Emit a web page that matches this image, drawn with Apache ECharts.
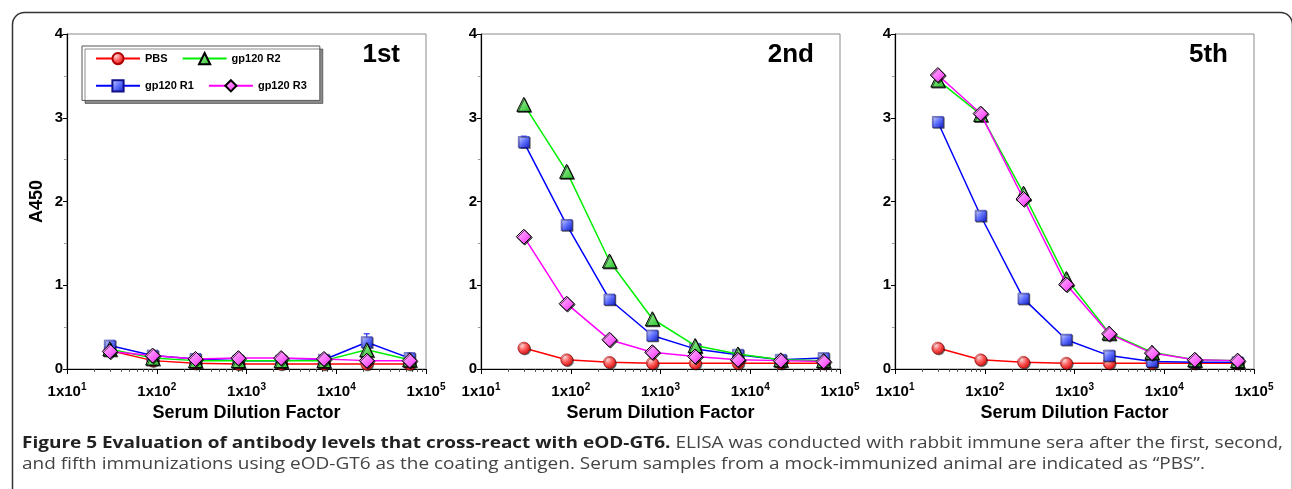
<!DOCTYPE html>
<html>
<head>
<meta charset="utf-8">
<script src="https://cdn.jsdelivr.net/npm/echarts@6/dist/echarts.min.js"></script>
<style>
  html, body { margin: 0; padding: 0; background: #fff; }
  #main { width: 1292px; height: 489px; }
</style>
</head>
<body>
<div id="main"></div>
<script>
// serum dilutions, 3-fold steps from 1:30
var dilutions = [30, 90, 270, 810, 2430, 7290, 21870, 65610];
var panelNames = ['1st', '2nd', '5th'];

// A450 after 1st immunization
var pbs1 = [0.22, 0.10, 0.07, 0.06, 0.06, 0.06, 0.06, 0.06];
var r1_1 = [0.28, 0.16, 0.12, 0.10, 0.10, 0.11, 0.32, 0.13];
var r2_1 = [0.24, 0.13, 0.10, 0.10, 0.10, 0.10, 0.23, 0.11];
var r3_1 = [0.21, 0.16, 0.12, 0.13, 0.13, 0.12, 0.10, 0.10];
// after 2nd
var pbs2 = [0.25, 0.11, 0.08, 0.07, 0.07, 0.07, 0.07, 0.07];
var r1_2 = [2.71, 1.72, 0.83, 0.40, 0.24, 0.17, 0.11, 0.13];
var r2_2 = [3.16, 2.36, 1.29, 0.60, 0.28, 0.18, 0.11, 0.10];
var r3_2 = [1.58, 0.78, 0.35, 0.20, 0.15, 0.11, 0.10, 0.09];
// after 5th
var pbs5 = [0.25, 0.11, 0.08, 0.07, 0.07, 0.07, 0.07, 0.07];
var r1_5 = [2.95, 1.83, 0.84, 0.35, 0.16, 0.09, 0.08, 0.08];
var r2_5 = [3.45, 3.04, 2.10, 1.08, 0.43, 0.20, 0.11, 0.10];
var r3_5 = [3.51, 3.05, 2.03, 1.01, 0.42, 0.19, 0.11, 0.10];

// error bars that are visible in the figure
var errR1_1 = [0, 0, 0, 0, 0, 0, 0.10, 0.06];
var errR2_1 = [0, 0, 0, 0, 0, 0, 0.05, 0];
var errR1_2 = [0.07, 0, 0, 0, 0, 0, 0, 0];

var yTicks = [0, 1, 2, 3, 4];
var xMajor = [10, 100, 1000, 10000, 100000];
var xMinor = [];
for (var p = 10; p < 100000; p *= 10) {
  for (var k = 2; k <= 9; k++) xMinor.push(k * p);
}

var captionBold = 'Figure 5 Evaluation of antibody levels that cross-react with eOD-GT6.';
var captionRest1 = ' ELISA was conducted with rabbit immune sera after the first, second,';
var captionLine2 = 'and fifth immunizations using eOD-GT6 as the coating antigen. Serum samples from a mock-immunized animal are indicated as \u201cPBS\u201d.';

var font = 'Liberation Sans, Arial, Helvetica, sans-serif';
var capFont = '"Open Sans", sans-serif';
var chart = echarts.init(document.getElementById('main'));

var lefts = [67, 481, 895];
var grids = [], xAxes = [], yAxes = [], series = [], titles = [];

// marker styles
var sty = {
  pbs: { symbol: 'circle', size: 12, line: '#ff0000',
    fill: { type: 'radial', x: 0.35, y: 0.3, r: 0.75, colorStops: [{ offset: 0, color: '#ffd6d6' }, { offset: 0.5, color: '#ff5a5a' }, { offset: 1, color: '#d01010' }] },
    border: '#b00000', bw: 0.5, z: 2 },
  r1: { symbol: 'rect', size: 11, line: '#0000ff',
    fill: { type: 'linear', x: 0, y: 0, x2: 1, y2: 1, colorStops: [{ offset: 0, color: '#d8dcff' }, { offset: 0.5, color: '#6070ff' }, { offset: 1, color: '#1020c0' }] },
    border: '#10108a', bw: 0.5, z: 3 },
  r2: { symbol: 'triangle', size: 14, line: '#00ee00',
    fill: { type: 'linear', x: 0, y: 0, x2: 1, y2: 1, colorStops: [{ offset: 0, color: '#b8ffb8' }, { offset: 1, color: '#22bb22' }] },
    border: '#000', bw: 1, z: 4 },
  r3: { symbol: 'diamond', size: 15, line: '#ff00ff',
    fill: { type: 'linear', x: 0, y: 0, x2: 1, y2: 1, colorStops: [{ offset: 0, color: '#ffc8ff' }, { offset: 0.6, color: '#ff66ff' }, { offset: 1, color: '#d020d0' }] },
    border: '#000', bw: 1, z: 5 }
};

function line(name, vals, gi, s) {
  return {
    name: name, type: 'line', xAxisIndex: gi * 2, yAxisIndex: gi,
    data: dilutions.map(function (d, i) { return [d, vals[i]]; }),
    symbol: s.symbol, symbolSize: s.size, showAllSymbol: true,
    lineStyle: { color: s.line, width: 1.5 },
    itemStyle: { color: s.fill, borderColor: s.border, borderWidth: s.bw,
      shadowColor: 'rgba(0,0,0,0.6)', shadowOffsetX: 1, shadowOffsetY: 1 },
    z: s.z, animation: false, emphasis: { disabled: true }
  };
}

function errBars(vals, err, gi, color) {
  return {
    type: 'custom', xAxisIndex: gi * 2, yAxisIndex: gi, silent: true, z: 1, animation: false,
    data: dilutions.map(function (d, i) { return [d, vals[i], err[i]]; }).filter(function (e) { return e[2] > 0; }),
    renderItem: function (params, api) {
      var x = api.value(0), y = api.value(1), e = api.value(2);
      var hi = api.coord([x, y + e]), lo = api.coord([x, y - e]);
      var st = { stroke: color, lineWidth: 1 };
      return { type: 'group', children: [
        { type: 'line', shape: { x1: hi[0], y1: hi[1], x2: lo[0], y2: lo[1] }, style: st },
        { type: 'line', shape: { x1: hi[0] - 3, y1: hi[1], x2: hi[0] + 3, y2: hi[1] }, style: st },
        { type: 'line', shape: { x1: lo[0] - 3, y1: lo[1], x2: lo[0] + 3, y2: lo[1] }, style: st }
      ] };
    }
  };
}

var panelData = [
  [pbs1, r1_1, r2_1, r3_1],
  [pbs2, r1_2, r2_2, r3_2],
  [pbs5, r1_5, r2_5, r3_5]
];

for (var g = 0; g < 3; g++) {
  grids.push({ left: lefts[g], top: 34, width: 359, height: 335, show: true,
    borderColor: '#8a8a8a', borderWidth: 1, backgroundColor: 'transparent' });
  // main log axis with labels
  xAxes.push({
    type: 'log', logBase: 10, gridIndex: g, min: 10, max: 100000,
    name: 'Serum Dilution Factor', nameLocation: 'middle', nameGap: 33,
    nameTextStyle: { fontFamily: font, fontWeight: 'bold', fontSize: 18, color: '#000' },
    axisLine: { show: true, onZero: false, lineStyle: { color: '#000', width: 1.2 } },
    axisTick: { show: true, length: 5, customValues: xMajor, lineStyle: { color: '#000' } },
    axisLabel: {
      customValues: xMajor, margin: 13, color: '#000', fontFamily: font, fontWeight: 'bold', fontSize: 15,
      formatter: function (v) { return '1x10{sup|' + Math.round(Math.log10(v)) + '}'; },
      rich: { sup: { fontFamily: font, fontWeight: 'bold', fontSize: 10, verticalAlign: 'bottom', padding: [0, 0, 9, 0], color: '#000' } }
    },
    splitLine: { show: false }
  });
  // minor ticks 2..9 per decade
  xAxes.push({
    type: 'log', logBase: 10, gridIndex: g, min: 10, max: 100000, position: 'bottom',
    axisLine: { show: false },
    axisTick: { show: true, length: 3, customValues: xMinor, lineStyle: { color: '#555' } },
    axisLabel: { show: false }, splitLine: { show: false }
  });
  yAxes.push({
    type: 'value', gridIndex: g, min: 0, max: 4, interval: 1,
    name: g === 0 ? 'A450' : '', nameLocation: 'middle', nameGap: 21,
    nameTextStyle: { fontFamily: font, fontWeight: 'bold', fontSize: 18, color: '#000' },
    axisLine: { show: true, lineStyle: { color: '#000', width: 1.2 } },
    axisTick: { show: true, length: 4, lineStyle: { color: '#000' } },
    minorTick: { show: true, splitNumber: 2, length: 3, lineStyle: { color: '#999' } },
    axisLabel: { margin: 4, color: '#000', fontFamily: font, fontWeight: 'bold', fontSize: 15,
      customValues: yTicks },
    splitLine: { show: false }
  });
  var d = panelData[g];
  series.push(errBars(d[1], g === 0 ? errR1_1 : (g === 1 ? errR1_2 : [0, 0, 0, 0, 0, 0, 0, 0]), g, '#0000ff'));
  if (g === 0) series.push(errBars(d[2], errR2_1, g, '#00cc00'));
  series.push(line('PBS', d[0], g, sty.pbs));
  series.push(line('gp120 R1', d[1], g, sty.r1));
  series.push(line('gp120 R2', d[2], g, sty.r2));
  series.push(line('gp120 R3', d[3], g, sty.r3));
  titles.push({ text: panelNames[g], right: 1292 - (lefts[g] + 359 - 26), top: 42, padding: 0,
    textStyle: { fontFamily: font, fontWeight: 'bold', fontSize: 26, color: '#000' } });
}

// caption is stretched horizontally like the source (line 1 spans 22..1283)
var capSize = 16;
var ctx = document.createElement('canvas').getContext('2d');
ctx.font = 'bold ' + capSize + 'px ' + capFont;
var wBold = ctx.measureText(captionBold).width;
ctx.font = capSize + 'px ' + capFont;
var wRest = ctx.measureText(captionRest1).width;
var capScale = 1261 / (wBold + wRest);

chart.setOption({
  animation: false,
  title: titles,
  grid: grids,
  xAxis: xAxes,
  yAxis: yAxes,
  legend: {
    left: 82, top: 46, width: 237, orient: 'horizontal',
    data: ['PBS', 'gp120 R2', 'gp120 R1', 'gp120 R3'],
    itemWidth: 44, itemHeight: 14, itemGap: 14,
    padding: [6, 13, 8, 13],
    backgroundColor: '#fff', borderColor: '#555', borderWidth: 1,
    shadowColor: 'rgba(0,0,0,0.45)', shadowOffsetX: 3, shadowOffsetY: 3, shadowBlur: 0,
    textStyle: { fontFamily: font, fontWeight: 'bold', fontSize: 11, color: '#000', width: 50 },
    selectedMode: false
  },
  graphic: [
    { type: 'rect', left: 10, top: 10, shape: { width: 1280, height: 520, r: 12 }, z: -10,
      style: { fill: 'none', stroke: '#333', lineWidth: 1.5 } },
    { type: 'text', x: 22, y: 443, scaleX: capScale, z: 10,
      style: {
        text: '{b|' + captionBold + '}' + captionRest1,
        fontFamily: capFont, fontSize: capSize, fill: '#444', verticalAlign: 'middle',
        rich: { b: { fontFamily: capFont, fontSize: capSize, fontWeight: 'bold', fill: '#222' } }
      } },
    { type: 'text', x: 22, y: 464, scaleX: capScale, z: 10,
      style: {
        text: captionLine2,
        fontFamily: capFont, fontSize: capSize, fill: '#444', verticalAlign: 'middle'
      } }
  ],
  series: series
});
</script>
</body>
</html>
